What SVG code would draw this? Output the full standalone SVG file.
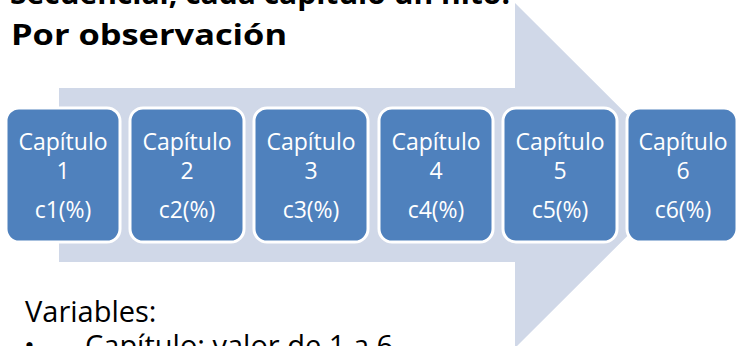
<svg xmlns="http://www.w3.org/2000/svg" width="738" height="346" viewBox="0 0 738 346">
<style>
.title{font-family:"Open Sans","DejaVu Sans",sans-serif;font-weight:bold;font-size:29px;fill:#000}
.body{font-family:"Open Sans","DejaVu Sans",sans-serif;font-size:29px;fill:#000}
.box{fill:#4F81BD;stroke:#FFFFFF;stroke-width:3}
.lbl{font-family:"Open Sans","DejaVu Sans",sans-serif;font-size:23px;fill:#FFFFFF;text-anchor:middle}
</style>
<rect x="0" y="0" width="738" height="346" fill="#FFFFFF"/>
<g id="arrow">
<polygon points="59,88 515,88 515,3 688,175.5 515,348 515,262 59,262" fill="#D0D8E8"/>
</g>
<g id="titles">
<text class="title" x="10" y="4" textLength="500" lengthAdjust="spacingAndGlyphs">Secuencial, cada capítulo un hito.</text>
<text class="title" x="11" y="45" textLength="276" lengthAdjust="spacingAndGlyphs">Por observación</text>
</g>
<g id="node1">
<rect class="box" x="6" y="108" width="114" height="134" rx="13"/>
<text class="lbl" x="63" y="150">Capítulo</text>
<text class="lbl" x="63" y="179">1</text>
<text class="lbl" x="63" y="218">c1(%)</text>
</g>
<g id="node2">
<rect class="box" x="130" y="108" width="114" height="134" rx="13"/>
<text class="lbl" x="187" y="150">Capítulo</text>
<text class="lbl" x="187" y="179">2</text>
<text class="lbl" x="187" y="218">c2(%)</text>
</g>
<g id="node3">
<rect class="box" x="254" y="108" width="114" height="134" rx="13"/>
<text class="lbl" x="311" y="150">Capítulo</text>
<text class="lbl" x="311" y="179">3</text>
<text class="lbl" x="311" y="218">c3(%)</text>
</g>
<g id="node4">
<rect class="box" x="379" y="108" width="114" height="134" rx="13"/>
<text class="lbl" x="436" y="150">Capítulo</text>
<text class="lbl" x="436" y="179">4</text>
<text class="lbl" x="436" y="218">c4(%)</text>
</g>
<g id="node5">
<rect class="box" x="503" y="108" width="114" height="134" rx="13"/>
<text class="lbl" x="560" y="150">Capítulo</text>
<text class="lbl" x="560" y="179">5</text>
<text class="lbl" x="560" y="218">c5(%)</text>
</g>
<g id="node6">
<rect class="box" x="627" y="108" width="110" height="134" rx="13"/>
<text class="lbl" x="683" y="150">Capítulo</text>
<text class="lbl" x="683" y="179">6</text>
<text class="lbl" x="683" y="218">c6(%)</text>
</g>
<g id="connectors"></g>
<g id="notes">
<text class="body" x="25" y="322">Variables:</text>
<text class="body" x="24" y="356">•</text>
<text class="body" x="85" y="356">Capítulo: valor de 1 a 6</text>
</g>
</svg>
